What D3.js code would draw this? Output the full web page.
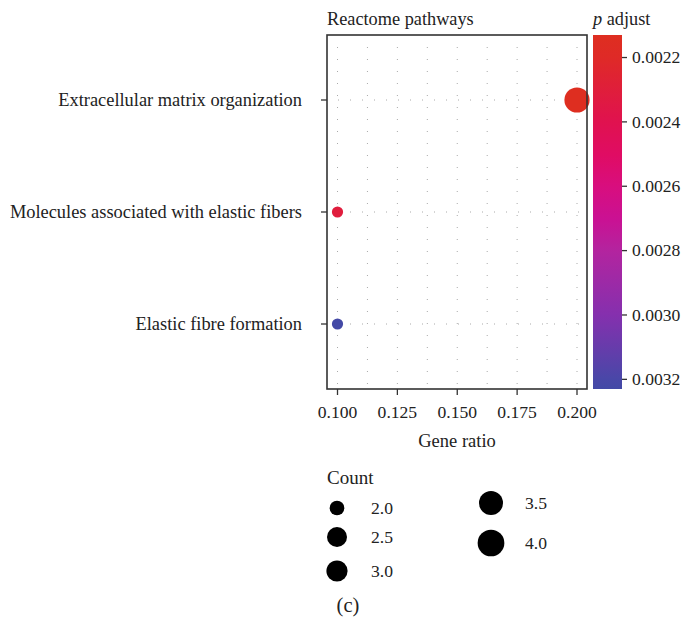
<!DOCTYPE html>
<html><head><meta charset="utf-8">
<script src="https://cdn.jsdelivr.net/npm/d3@7"></script>
<style>body{margin:0;background:#fff}svg{display:block}text{font-family:"Liberation Serif","Times New Roman",serif;fill:#222}</style>
</head><body>
<svg id="c" width="684" height="620"></svg>
<script>
// ---- data ----
const categories = ["Extracellular matrix organization","Molecules associated with elastic fibers","Elastic fibre formation"];
const geneRatio = [0.2, 0.1, 0.1];
const counts = [4, 2, 2];
const pAdjust = [0.00213, 0.00231, 0.00323];
const xTicks = [0.100, 0.125, 0.150, 0.175, 0.200];
const xTickLabels = ["0.100","0.125","0.150","0.175","0.200"];
const pTicks = [0.0022, 0.0024, 0.0026, 0.0028, 0.0030, 0.0032];
const pTickLabels = ["0.0022","0.0024","0.0026","0.0028","0.0030","0.0032"];
const legendCounts = [2.0, 2.5, 3.0, 3.5, 4.0];
const legendLabels = ["2.0","2.5","3.0","3.5","4.0"];

// ---- layout ----
const svg = d3.select("#c");
const P = {l:327, r:587, t:35, b:389};
const x = d3.scaleLinear().domain([0.1,0.2]).range([337.5,577]);
const y = d3.scalePoint().domain(categories).range([100,324]);
const rPlot = d3.scaleLinear().domain([Math.sqrt(2),Math.sqrt(4)]).range([5.6,12.6]);
const rLeg = d3.scaleLinear().domain([2,2.5,3,3.5,4]).range([7.35,10,10.6,12,13.35]);
const pMin = d3.min(pAdjust), pMax = d3.max(pAdjust);
const stopT = [0, 0.064, 0.245, 0.34, 0.427, 0.52, 0.61, 0.79, 0.97, 1];
const stopC = ["#DE2E20","#DF2A27","#E0124F","#E00C64","#D80E7E","#CA1193","#B3249F","#8530AE","#4A47A8","#4349A6"];
const tcol = d3.scaleLinear().domain(stopT).range(stopC).interpolate(d3.interpolateRgb);
const pNorm = d3.scaleLinear().domain([pMin,pMax]).range([0,1]);
const color = p => tcol(pNorm(p));

// gridlines
const gridX = d3.range(0,9).map(i => 0.1 + i*0.0125);
svg.append("g").selectAll("line").data(gridX).join("line")
  .attr("x1",d=>x(d)).attr("x2",d=>x(d)).attr("y1",P.t+12).attr("y2",P.b)
  .attr("stroke","#aaa").attr("stroke-width",1).attr("stroke-dasharray","1,11");
svg.append("g").selectAll("line").data(categories).join("line")
  .attr("x1",P.l+11).attr("x2",P.r).attr("y1",d=>y(d)).attr("y2",d=>y(d))
  .attr("stroke","#aaa").attr("stroke-width",1).attr("stroke-dasharray","1,11");

// points
const pts = categories.map((c,i)=>({c, g:geneRatio[i], n:counts[i], p:pAdjust[i]}));
svg.append("g").selectAll("circle").data(pts).join("circle")
  .attr("cx",d=>x(d.g)).attr("cy",d=>y(d.c)).attr("r",d=>rPlot(Math.sqrt(d.n)))
  .attr("fill",d=>color(d.p));

// panel border
svg.append("rect").attr("x",P.l).attr("y",P.t).attr("width",P.r-P.l).attr("height",P.b-P.t)
  .attr("fill","none").attr("stroke","#333").attr("stroke-width",1.6);

// x axis
const xa = svg.append("g");
xa.selectAll("line").data(xTicks).join("line")
  .attr("x1",d=>x(d)).attr("x2",d=>x(d)).attr("y1",P.b).attr("y2",P.b+6)
  .attr("stroke","#333").attr("stroke-width",1.3);
xa.selectAll("text").data(xTicks).join("text")
  .attr("x",d=>x(d)).attr("y",418).attr("text-anchor","middle").style("font-size","17.6px")
  .text((d,i)=>xTickLabels[i]);
svg.append("text").attr("x",(P.l+P.r)/2).attr("y",447).attr("text-anchor","middle")
  .style("font-size","18.5px").text("Gene ratio");

// y axis
const ya = svg.append("g");
ya.selectAll("line").data(categories).join("line")
  .attr("x1",P.l-6).attr("x2",P.l).attr("y1",d=>y(d)).attr("y2",d=>y(d))
  .attr("stroke","#333").attr("stroke-width",1.3);
ya.selectAll("text").data(categories).join("text")
  .attr("x",302).attr("y",d=>y(d)).attr("dy","0.3em").attr("text-anchor","end")
  .style("font-size","18.4px").text(d=>d);

// title
svg.append("text").attr("x",P.l).attr("y",25).style("font-size","18.3px").text("Reactome pathways");

// colorbar
const CB = {x:593, w:29, t:35, b:389};
const defs = svg.append("defs");
const grad = defs.append("linearGradient").attr("id","cbg").attr("x1",0).attr("x2",0).attr("y1",0).attr("y2",1);
grad.selectAll("stop").data(stopT).join("stop")
  .attr("offset",d=>d).attr("stop-color",(d,i)=>stopC[i]);
svg.append("rect").attr("x",CB.x).attr("y",CB.t).attr("width",CB.w).attr("height",CB.b-CB.t).attr("fill","url(#cbg)");
const cy = d3.scaleLinear().domain([pMin,pMax]).range([CB.t,CB.b]);
svg.append("g").selectAll("line").data(pTicks).join("line")
  .attr("x1",CB.x+CB.w).attr("x2",CB.x+CB.w+5).attr("y1",d=>cy(d)).attr("y2",d=>cy(d))
  .attr("stroke","#333").attr("stroke-width",1.3);
svg.append("g").selectAll("text").data(pTicks).join("text")
  .attr("x",632).attr("y",d=>cy(d)).attr("dy","0.33em").style("font-size","17.6px")
  .text((d,i)=>pTickLabels[i]);
const pt = svg.append("text").attr("x",CB.x).attr("y",25).style("font-size","18.3px");
pt.append("tspan").style("font-style","italic").text("p");
pt.append("tspan").text(" adjust");

// size legend
svg.append("text").attr("x",P.l).attr("y",484).style("font-size","19px").text("Count");
const legPos = [[337,508],[337,537],[337,571],[491,503],[491,543]];
const lg = svg.append("g");
lg.selectAll("circle").data(legendCounts).join("circle")
  .attr("cx",(d,i)=>legPos[i][0]).attr("cy",(d,i)=>legPos[i][1]).attr("r",d=>rLeg(d)).attr("fill","#000");
lg.selectAll("text").data(legendCounts).join("text")
  .attr("x",(d,i)=>legPos[i][0]+34).attr("y",(d,i)=>legPos[i][1]).attr("dy","0.32em")
  .style("font-size","17.6px").text((d,i)=>legendLabels[i]);

svg.append("text").attr("x",348).attr("y",612).attr("text-anchor","middle").style("font-size","20.5px").text("(c)");
</script>
</body></html>
